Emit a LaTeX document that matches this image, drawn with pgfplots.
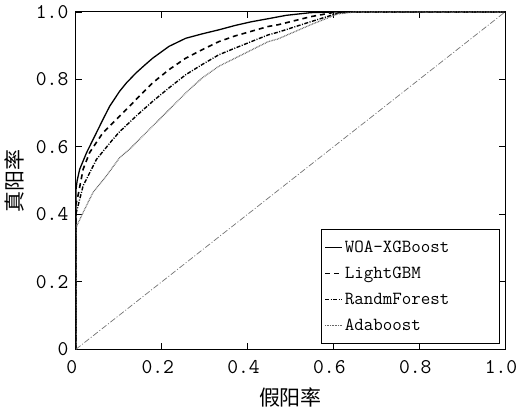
\documentclass[border=0pt]{standalone}
\usepackage{fontspec}
\newfontfamily\cjk{Noto Sans CJK SC}
\usepackage{pgfplots}
\pgfplotsset{compat=1.18}
\usetikzlibrary{calc}

\begin{document}
\begin{tikzpicture}
\begin{axis}[
    name=ax,
    width=430pt, height=338pt, scale only axis,
    xmin=0, xmax=1, ymin=0, ymax=1,
    xtick={0,0.2,0.4,0.6,0.8,1}, ytick={0,0.2,0.4,0.6,0.8,1},
    xticklabels={0,0.2,0.4,0.6,0.8,1.0},
    yticklabels={0,0.2,0.4,0.6,0.8,1.0},
    tick align=inside, major tick length=6pt,
    tick style={black, line width=0.9pt},
    axis line style={line width=1pt},
    ticklabel style={font=\fontsize{21}{21}\selectfont\ttfamily},
    xticklabel style={yshift=-8pt, xshift=-4pt},
    yticklabel style={xshift=-4pt},
    xlabel={\cjk 假阳率},
    ylabel={\cjk 真阳率},
    label style={font=\fontsize{21}{21}\selectfont},
    xlabel style={yshift=-7pt},
    ylabel style={yshift=5pt},
    legend cell align=left,
    legend style={at={(rel axis cs:1,0)}, anchor=south east, xshift=-5pt, yshift=5pt,
        draw=black, line width=0.9pt, font=\fontsize{18.5}{18.5}\selectfont\ttfamily,
        inner xsep=3pt, inner ysep=10pt, row sep=9pt},
    legend image code/.code={\draw[#1] (0pt,0pt) -- (17pt,0pt);},
]
\addplot[black, line width=1.3pt] coordinates {
(0,0) (0,0.47) (0.003,0.50) (0.009,0.534) (0.025,0.583) (0.044,0.632) (0.063,0.681)
(0.079,0.721) (0.102,0.765) (0.118,0.790) (0.140,0.819) (0.160,0.842) (0.179,0.863)
(0.217,0.898) (0.256,0.922) (0.294,0.935) (0.333,0.947) (0.371,0.960) (0.409,0.971)
(0.448,0.980) (0.49,0.990) (0.547,0.998) (0.6,1.0) (1,1)};
\addlegendentry{\makebox[150pt][l]{WOA-XGBoost}}
\addplot[black, line width=1.6pt, dash pattern=on 5pt off 4pt] coordinates {
(0,0) (0,0.43) (0.005,0.455) (0.017,0.534) (0.032,0.583) (0.063,0.642) (0.094,0.681)
(0.102,0.691) (0.140,0.740) (0.179,0.790) (0.217,0.829) (0.256,0.863) (0.294,0.888)
(0.333,0.912) (0.371,0.929) (0.448,0.957) (0.471,0.962) (0.547,0.986) (0.602,0.999)
(0.63,1.0) (1,1)};
\addlegendentry{LightGBM}
\addplot[black, line width=1.4pt, dash pattern=on 4pt off 1.5pt on 1pt off 1.5pt] coordinates {
(0,0) (0,0.40) (0.017,0.485) (0.048,0.563) (0.086,0.622) (0.102,0.645) (0.140,0.691)
(0.179,0.735) (0.217,0.775) (0.256,0.814) (0.294,0.844) (0.333,0.873) (0.371,0.893)
(0.448,0.932) (0.471,0.940) (0.547,0.971) (0.610,0.996) (0.64,1.0) (1,1)};
\addlegendentry{RandmForest}
\addplot[black!60, line width=1.2pt, dash pattern=on 0.8pt off 0.8pt] coordinates {
(0,0) (0,0.36) (0.017,0.406) (0.040,0.465) (0.071,0.514) (0.102,0.568) (0.125,0.593)
(0.179,0.662) (0.256,0.760) (0.294,0.804) (0.333,0.839) (0.371,0.863) (0.448,0.912)
(0.471,0.920) (0.547,0.962) (0.61,0.994) (0.65,1.0) (1,1)};
\addlegendentry{Adaboost}
\addplot[black!55, line width=0.7pt, dash pattern=on 6pt off 2pt on 1pt off 2pt, forget plot] coordinates {(0,0) (1,1)};
\end{axis}
\pgfresetboundingbox
\path ($(ax.south west)+(-76pt,-61pt)$) rectangle ($(ax.north east)+(15pt,12pt)$);
\end{tikzpicture}
\end{document}
